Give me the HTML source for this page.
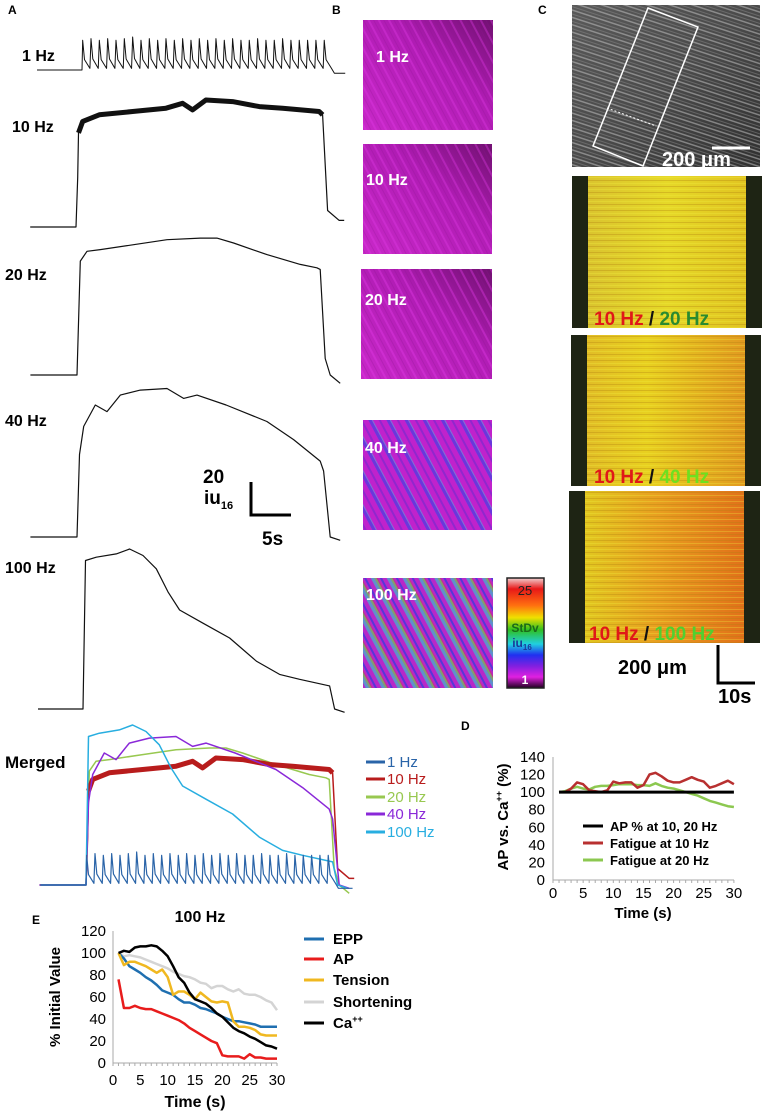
<!DOCTYPE html>
<html><head><meta charset="utf-8">
<style>
html,body{margin:0;padding:0;background:#fff;}
svg{display:block;font-family:"Liberation Sans",Arial,sans-serif;}
.b{font-weight:bold;}
</style></head>
<body>
<svg id="fig" width="766" height="1115" viewBox="0 0 766 1115" xmlns="http://www.w3.org/2000/svg">
<defs>
  <pattern id="stMag" patternUnits="userSpaceOnUse" width="9" height="9" patternTransform="rotate(-28)">
    <rect width="9" height="9" fill="none"/>
    <rect x="0" y="0" width="2" height="9" fill="#e23ae8" opacity="0.7"/>
    <rect x="5" y="0" width="1" height="9" fill="#8c1690" opacity="0.5"/>
  </pattern>
  <pattern id="st40" patternUnits="userSpaceOnUse" width="16" height="16" patternTransform="rotate(-28)">
    <rect x="0" y="0" width="3" height="16" fill="#2e48e8" opacity="0.85"/>
    <rect x="3" y="0" width="1" height="16" fill="#38c8e0" opacity="0.7"/>
    <rect x="9" y="0" width="2" height="16" fill="#3a30d0" opacity="0.5"/>
  </pattern>
  <pattern id="st100" patternUnits="userSpaceOnUse" width="14" height="14" patternTransform="rotate(-28)">
    <rect x="0" y="0" width="3" height="14" fill="#30c8d0"/>
    <rect x="3" y="0" width="2" height="14" fill="#60e040"/>
    <rect x="5" y="0" width="1" height="14" fill="#e04020" opacity="0.6"/>
    <rect x="8" y="0" width="2" height="14" fill="#2040e0"/>
  </pattern>
  <pattern id="stPhoto" patternUnits="userSpaceOnUse" width="10" height="7" patternTransform="rotate(18)">
    <rect x="0" y="0" width="10" height="1.5" fill="#bdbdbd" opacity="0.55"/>
    <rect x="0" y="4" width="10" height="1" fill="#8a8a8a" opacity="0.5"/>
  </pattern>
  <pattern id="stH" patternUnits="userSpaceOnUse" width="10" height="6">
    <rect x="0" y="0" width="10" height="1" fill="#b08010" opacity="0.35"/>
    <rect x="0" y="3" width="10" height="1" fill="#f0f040" opacity="0.3"/>
  </pattern>
  <linearGradient id="gMag" x1="0" y1="1" x2="1" y2="0">
    <stop offset="0" stop-color="#c828c8"/><stop offset="0.6" stop-color="#b01cb4"/><stop offset="1" stop-color="#701070"/>
  </linearGradient>
  <linearGradient id="gBar" x1="0" y1="0" x2="0" y2="1">
    <stop offset="0" stop-color="#f0d0d0"/><stop offset="0.1" stop-color="#e81818"/>
    <stop offset="0.25" stop-color="#ff7010"/><stop offset="0.36" stop-color="#f0e000"/>
    <stop offset="0.47" stop-color="#30c020"/><stop offset="0.6" stop-color="#20d0e0"/>
    <stop offset="0.7" stop-color="#2030f0"/><stop offset="0.8" stop-color="#8020e0"/>
    <stop offset="0.9" stop-color="#e020e0"/><stop offset="1" stop-color="#200020"/>
  </linearGradient>
  <linearGradient id="gPhoto" x1="0" y1="0" x2="1" y2="1">
    <stop offset="0" stop-color="#5a5a5a"/><stop offset="0.5" stop-color="#4a4a4a"/><stop offset="1" stop-color="#303030"/>
  </linearGradient>
  <linearGradient id="gH1" x1="0" y1="0" x2="1" y2="0">
    <stop offset="0" stop-color="#d8c030"/><stop offset="0.5" stop-color="#e6d828"/><stop offset="1" stop-color="#e0c020"/>
  </linearGradient>
  <linearGradient id="gH2" x1="0" y1="0" x2="1" y2="0">
    <stop offset="0" stop-color="#e0b828"/><stop offset="0.4" stop-color="#e8d020"/><stop offset="1" stop-color="#e09020"/>
  </linearGradient>
  <linearGradient id="gH3" x1="0" y1="0" x2="1" y2="0">
    <stop offset="0" stop-color="#e0d020"/><stop offset="0.45" stop-color="#e8a020"/><stop offset="1" stop-color="#e06818"/>
  </linearGradient>
</defs>

<!-- panel labels -->
<text x="8" y="14" font-size="12" class="b">A</text>
<text x="332" y="14" font-size="12" class="b">B</text>
<text x="538" y="14" font-size="12" class="b">C</text>
<text x="461" y="730" font-size="12" class="b">D</text>
<text x="32" y="924" font-size="12" class="b">E</text>

<!-- A labels -->
<text x="22" y="61" font-size="16" class="b">1 Hz</text>
<text x="12" y="132" font-size="16" class="b">10 Hz</text>
<text x="5" y="280" font-size="16" class="b">20 Hz</text>
<text x="5" y="426" font-size="16" class="b">40 Hz</text>
<text x="5" y="573" font-size="16" class="b">100 Hz</text>
<g>
  <text x="203" y="483" font-size="19" class="b">20</text>
  <text x="204" y="504" font-size="19" class="b">iu<tspan font-size="11" dy="5">16</tspan></text>
  <path d="M251,482 V515 H291" stroke="#000" stroke-width="3" fill="none"/>
  <text x="262" y="545" font-size="19" class="b">5s</text>
</g>
<text x="5" y="768" font-size="17" class="b">Merged</text>
<g id="traces"></g>

<!-- merged legend -->
<g font-size="15">
  <line x1="366" y1="762" x2="385" y2="762" stroke="#2a64a8" stroke-width="3"/><text x="387" y="767" fill="#2a64a8">1 Hz</text>
  <line x1="366" y1="779" x2="385" y2="779" stroke="#b81c1c" stroke-width="3"/><text x="387" y="784" fill="#b81c1c">10 Hz</text>
  <line x1="366" y1="797" x2="385" y2="797" stroke="#98c850" stroke-width="3"/><text x="387" y="802" fill="#98c850">20 Hz</text>
  <line x1="366" y1="814" x2="385" y2="814" stroke="#8a28d8" stroke-width="3"/><text x="387" y="819" fill="#8a28d8">40 Hz</text>
  <line x1="366" y1="832" x2="385" y2="832" stroke="#28aee0" stroke-width="3"/><text x="387" y="837" fill="#28aee0">100 Hz</text>
</g>

<!-- Panel B images -->
<g>
  <g><rect x="363" y="20" width="130" height="110" fill="url(#gMag)"/><rect x="363" y="20" width="130" height="110" fill="url(#stMag)" opacity="0.5"/></g>
  <g><rect x="363" y="144" width="129" height="110" fill="url(#gMag)"/><rect x="363" y="144" width="129" height="110" fill="url(#stMag)" opacity="0.5"/></g>
  <g><rect x="361" y="269" width="131" height="110" fill="url(#gMag)"/><rect x="361" y="269" width="131" height="110" fill="url(#stMag)" opacity="0.55"/></g>
  <g><rect x="363" y="420" width="129" height="110" fill="#c022cc"/><rect x="363" y="420" width="129" height="110" fill="url(#st40)" opacity="0.7"/></g>
  <g><rect x="363" y="578" width="130" height="110" fill="#b828c8"/><rect x="363" y="578" width="130" height="110" fill="url(#st100)" opacity="0.65"/></g>
  <g fill="#fff" font-size="16" class="b">
    <text x="376" y="62">1 Hz</text><text x="366" y="185">10 Hz</text><text x="365" y="305">20 Hz</text>
    <text x="365" y="453">40 Hz</text><text x="366" y="600">100 Hz</text>
  </g>
  <g>
    <rect x="507" y="578" width="37" height="110" fill="url(#gBar)" stroke="#222" stroke-width="1.5"/>
    <text x="525" y="595" font-size="13" text-anchor="middle" fill="#222">25</text>
    <text x="525" y="632" font-size="12" text-anchor="middle" fill="#1a6a1a" class="b">StDv</text>
    <text x="522" y="647" font-size="12" text-anchor="middle" fill="#1a3a9a" class="b">iu<tspan font-size="8" dy="3">16</tspan></text>
    <text x="525" y="684" font-size="12" text-anchor="middle" fill="#fff" class="b">1</text>
  </g>
</g>

<!-- Panel C -->
<g>
  <g>
    <rect x="572" y="5" width="188" height="162" fill="url(#gPhoto)"/>
    <rect x="572" y="5" width="188" height="162" fill="url(#stPhoto)"/>
    <polygon points="648,8 698,27 643,166 593,146" fill="none" stroke="#fff" stroke-width="1.5"/>
    <line x1="607" y1="108" x2="656" y2="126" stroke="#fff" stroke-width="1" stroke-dasharray="2,2"/>
    <line x1="712" y1="148" x2="750" y2="148" stroke="#fff" stroke-width="3"/>
    <text x="662" y="166" font-size="20" class="b" fill="#fff">200 μm</text>
  </g>
  <g>
    <rect x="572" y="176" width="190" height="152" fill="url(#gH1)"/><rect x="572" y="176" width="190" height="152" fill="url(#stH)"/>
    <rect x="572" y="176" width="16" height="152" fill="#1e2414"/><rect x="746" y="176" width="16" height="152" fill="#1e2414"/>
    <text x="594" y="325" font-size="19" class="b"><tspan fill="#e01818">10 Hz </tspan><tspan fill="#111">/ </tspan><tspan fill="#2a8a30">20 Hz</tspan></text>
  </g>
  <g>
    <rect x="571" y="335" width="190" height="151" fill="url(#gH2)"/><rect x="571" y="335" width="190" height="151" fill="url(#stH)"/>
    <rect x="571" y="335" width="16" height="151" fill="#1e2414"/><rect x="745" y="335" width="16" height="151" fill="#1e2414"/>
    <text x="594" y="483" font-size="19" class="b"><tspan fill="#e01818">10 Hz </tspan><tspan fill="#111">/ </tspan><tspan fill="#6ee020">40 Hz</tspan></text>
  </g>
  <g>
    <rect x="569" y="491" width="191" height="152" fill="url(#gH3)"/><rect x="569" y="491" width="191" height="152" fill="url(#stH)"/>
    <rect x="569" y="491" width="16" height="152" fill="#1e2414"/><rect x="744" y="491" width="16" height="152" fill="#1e2414"/>
    <text x="589" y="640" font-size="19" class="b"><tspan fill="#e01818">10 Hz </tspan><tspan fill="#111">/ </tspan><tspan fill="#50d030">100 Hz</tspan></text>
  </g>
  <g>
    <text x="618" y="674" font-size="20" class="b">200 μm</text>
    <path d="M718,645 V683 H755" stroke="#000" stroke-width="3" fill="none"/>
    <text x="718" y="703" font-size="20" class="b">10s</text>
  </g>
</g>

<!-- Panel D static -->
<g id="chartD">
  <line x1="553" y1="757" x2="553" y2="880" stroke="#aaa"/>
  <line x1="553" y1="880" x2="734" y2="880" stroke="#aaa"/>
  <text transform="translate(508,817) rotate(-90)" font-size="15" class="b" text-anchor="middle">AP vs. Ca<tspan font-size="9" dy="-6">++</tspan><tspan dy="6"> (%)</tspan></text>
  <text x="643" y="918" font-size="15" class="b" text-anchor="middle">Time (s)</text>
  <g font-size="13" class="b">
    <line x1="583" y1="826" x2="603" y2="826" stroke="#000" stroke-width="3"/><text x="610" y="831">AP % at 10, 20 Hz</text>
    <line x1="583" y1="843" x2="603" y2="843" stroke="#b83030" stroke-width="3"/><text x="610" y="848">Fatigue at 10 Hz</text>
    <line x1="583" y1="860" x2="603" y2="860" stroke="#8cc850" stroke-width="3"/><text x="610" y="865">Fatigue at 20 Hz</text>
  </g>
</g>

<!-- Panel E static -->
<g id="chartE">
  <text x="200" y="922" font-size="16" class="b" text-anchor="middle">100 Hz</text>
  <line x1="113" y1="931" x2="113" y2="1063" stroke="#aaa"/>
  <line x1="113" y1="1063" x2="277" y2="1063" stroke="#aaa"/>
  <text transform="translate(60,997) rotate(-90)" font-size="15" class="b" text-anchor="middle">% Initial Value</text>
  <text x="195" y="1107" font-size="16" class="b" text-anchor="middle">Time (s)</text>
  <g font-size="15" class="b">
    <line x1="304" y1="939" x2="324" y2="939" stroke="#1f6fb0" stroke-width="3"/><text x="333" y="944">EPP</text>
    <line x1="304" y1="959" x2="324" y2="959" stroke="#e81c1c" stroke-width="3"/><text x="333" y="964">AP</text>
    <line x1="304" y1="980" x2="324" y2="980" stroke="#f0b820" stroke-width="3"/><text x="333" y="985">Tension</text>
    <line x1="304" y1="1002" x2="324" y2="1002" stroke="#d4d4d4" stroke-width="3"/><text x="333" y="1007">Shortening</text>
    <line x1="304" y1="1023" x2="324" y2="1023" stroke="#000" stroke-width="3"/><text x="333" y="1028">Ca<tspan font-size="9" dy="-6">++</tspan></text>
  </g>
</g>
</svg>

<script>
// ---------- Panel A / Merged trace data (time s from stimulus onset, value iu16) ----------
const spikeTimes1 = [0,1,2,3,4,5,6,7,8,9,10,11,12,13,14,15,16,17,18,19,20,21,22,23,24,25,26,27,28,29];
const spikeAmp1 = [18,19,18,19,18,19,20,18,19,18,19,18,19,18,19,18,19,18,19,18,18,19,18,18,19,18,18,18,18,18];
const t10 = [-5.5,0,0.2,0.3,0.8,2.8,6.8,10.8,12.8,14,15.6,18.8,22,24.8,29.2,29.6,30.2,31.6,32.2];
const v10 = [0,0,30,57,64,68,70,72,75,71,77,76,73,72,70,68,10,4,4];
const t20 = [-5.6,0,0.4,1.2,2.8,6.8,10.8,14.8,16.8,18.8,22.8,26.8,28.8,29.2,29.8,30.4,31.6];
const v20 = [0,0,69,75,76,79,82,83,83,80,73,67,65,64,10,0,-5];
const t40 = [-5.6,0,0.3,0.8,2.2,3.6,5.2,7.6,10.8,12.8,14.4,17.9,22.8,26,29.2,29.6,30.4,31.6];
const v40 = [0,0,50,67,80,76,86,89,90,84,86,80,70,59,46,40,0,-2];
const t100 = [-5.4,0,0.3,1.6,4,5.6,7.2,8.8,10.2,11.6,14.4,17.6,20.8,23.6,26,29.6,30.2,31.4];
const v100 = [0,0,90,92,94,97,93,85,71,60,52,43,29,21,18,14,0,-2];

// ---------- Panel D data ----------
const dTime = [1,2,3,4,5,6,7,8,9,10,11,12,13,14,15,16,17,18,19,20,21,22,23,24,25,26,27,28,29,30];
const dAP = [100,100,100,100,100,100,100,100,100,100,100,100,100,100,100,100,100,100,100,100,100,100,100,100,100,100,100,100,100,100];
const dFat10 = [100,100,104,111,109,102,101,100,102,112,110,111,111,105,108,120,122,118,113,111,111,114,117,114,112,105,107,110,113,109];
const dFat20 = [100,101,104,106,104,103,106,107,107,108,109,109,109,108,108,107,110,107,105,104,102,100,98,96,93,90,88,86,84,83];
const dYTicks = [0,20,40,60,80,100,120,140];
const dXTicks = [0,5,10,15,20,25,30];

// ---------- Panel E data ----------
const eTime = [1,2,3,4,5,6,7,8,9,10,11,12,13,14,15,16,17,18,19,20,21,22,23,24,25,26,27,28,29,30];
const eEPP = [100,95,88,85,82,78,75,71,66,64,62,58,55,55,53,50,49,47,45,42,40,38,38,37,36,35,33,33,33,33];
const eAP = [76,50,50,52,50,49,49,47,45,43,41,39,36,32,29,26,23,20,18,7,6,6,6,4,8,5,5,4,4,4];
const eTension = [100,89,92,92,90,88,85,82,85,78,62,65,65,62,58,64,60,56,55,56,55,38,33,33,32,30,26,25,25,25];
const eShort = [100,97,98,97,96,94,92,90,88,86,83,81,79,78,76,73,72,68,70,70,67,65,67,63,62,62,60,57,55,48];
const eCa = [100,102,101,105,106,106,107,106,102,97,88,78,73,64,58,56,54,50,45,42,37,32,29,27,24,22,19,16,15,13];
const eYTicks = [0,20,40,60,80,100,120];
const eXTicks = [0,5,10,15,20,25,30];

const NS = 'http://www.w3.org/2000/svg';
const tr = document.getElementById('traces');
const PXS = 8.33, PXIU = 1.65;
function ax(x0){ return t => x0 + t * PXS; }
function ay(base){ return v => base - v * PXIU; }

function pathD(ts, vs, X, Y){
  let d = '';
  for (let i = 0; i < ts.length; i++) d += (i ? 'L' : 'M') + X(ts[i]).toFixed(1) + ',' + Y(vs[i]).toFixed(1);
  return d;
}
function addPath(parent, d, color, w, name){
  const el = document.createElementNS(NS, 'path');
  el.setAttribute('d', d);
  el.setAttribute('fill', 'none');
  el.setAttribute('stroke', color);
  el.setAttribute('stroke-width', w);
  el.setAttribute('stroke-linejoin', 'round');
  
  
  parent.appendChild(el);
  return el;
}
function spikeD(X, Y, tStart, tEnd){
  let d = 'M' + X(tStart) + ',' + Y(0) + 'L' + X(0) + ',' + Y(0);
  for (let i = 0; i < spikeTimes1.length; i++){
    const s = spikeTimes1[i], a = spikeAmp1[i];
    d += 'L' + X(s + 0.08) + ',' + Y(a) + 'L' + X(s + 0.3) + ',' + Y(a * 0.35) + 'L' + X(s + 0.95) + ',' + Y(1);
  }
  const last = spikeTimes1[spikeTimes1.length - 1];
  d += 'L' + X(last + 1.3) + ',' + Y(-2) + 'L' + X(tEnd) + ',' + Y(-2);
  return d;
}
function plateau(ts, vs, lo, hi){
  const a = [], b = [];
  for (let i = 0; i < ts.length; i++) if (ts[i] >= lo && ts[i] <= hi){ a.push(ts[i]); b.push(vs[i]); }
  return [a, b];
}

// Panel A traces
addPath(tr, spikeD(ax(82), ay(70), -5.4, 31.6), '#111', 1, 'trace-1hz');
addPath(tr, pathD(t10, v10, ax(76), ay(227)), '#111', 1.2, 'trace-10hz');
const p10 = plateau(t10, v10, 0.3, 29.6);
addPath(tr, pathD(p10[0], p10[1], ax(76), ay(227)), '#111', 5, 'trace-10hz-noise-band');
addPath(tr, pathD(t20, v20, ax(77), ay(375)), '#111', 1.2, 'trace-20hz');
addPath(tr, pathD(t40, v40, ax(77), ay(537)), '#111', 1.2, 'trace-40hz');
addPath(tr, pathD(t100, v100, ax(83), ay(709)), '#111', 1.2, 'trace-100hz');

// Merged
const mX = ax(86), mY = ay(885);
addPath(tr, pathD(t20, v20, mX, mY), '#98c850', 1.5, 'merged-20hz');
addPath(tr, pathD(t10, v10, mX, mY), '#b81c1c', 1.5, 'merged-10hz');
addPath(tr, pathD(p10[0], p10[1], mX, mY), '#b81c1c', 5, 'merged-10hz-noise-band');
addPath(tr, pathD(t40, v40, mX, mY), '#8a28d8', 1.5, 'merged-40hz');
addPath(tr, pathD(t100, v100, mX, mY), '#28aee0', 1.5, 'merged-100hz');
addPath(tr, spikeD(mX, mY, -5.5, 32), '#2a64a8', 1.2, 'merged-1hz');

function addText(parent, x, y, s, anchor, size){
  const el = document.createElementNS(NS, 'text');
  el.setAttribute('x', x); el.setAttribute('y', y);
  el.setAttribute('text-anchor', anchor);
  el.setAttribute('font-size', size);
  el.textContent = s;
  
  
  parent.appendChild(el);
}
function addTick(parent, x1, y1, x2, y2){
  const el = document.createElementNS(NS, 'line');
  el.setAttribute('x1', x1); el.setAttribute('y1', y1); el.setAttribute('x2', x2); el.setAttribute('y2', y2);
  el.setAttribute('stroke', '#aaa');
  
  
  parent.appendChild(el);
}

// Panel D
const gD = document.getElementById('chartD');
const xD = v => 553 + v * 6.03, yD = v => 880 - v * 0.879;
dYTicks.forEach(v => addText(gD, 545, yD(v) + 5, String(v), 'end', 15));
dXTicks.forEach(v => addText(gD, xD(v), 898, String(v), 'middle', 15));
for (let i = 0; i <= 30; i++) addTick(gD, xD(i), 880, xD(i), 883);
addPath(gD, pathD(dTime, dFat20, xD, yD), '#8cc850', 2.5, 'd-line-fatigue-20hz');
addPath(gD, pathD(dTime, dFat10, xD, yD), '#b83030', 2.5, 'd-line-fatigue-10hz');
addPath(gD, pathD(dTime, dAP, xD, yD), '#000', 3, 'd-line-ap-percent');

// Panel E
const gE = document.getElementById('chartE');
const xE = v => 113 + v * 5.467, yE = v => 1063 - v * 1.1;
eYTicks.forEach(v => addText(gE, 106, yE(v) + 5, String(v), 'end', 15));
eXTicks.forEach(v => addText(gE, xE(v), 1085, String(v), 'middle', 15));
for (let i = 0; i <= 30; i++) addTick(gE, xE(i), 1063, xE(i), 1066);
addPath(gE, pathD(eTime, eShort, xE, yE), '#d4d4d4', 2.5, 'e-line-shortening');
addPath(gE, pathD(eTime, eEPP, xE, yE), '#1f6fb0', 2.5, 'e-line-epp');
addPath(gE, pathD(eTime, eTension, xE, yE), '#f0b820', 2.5, 'e-line-tension');
addPath(gE, pathD(eTime, eAP, xE, yE), '#e81c1c', 2.5, 'e-line-ap');
addPath(gE, pathD(eTime, eCa, xE, yE), '#000', 2.5, 'e-line-ca');
</script>
</body></html>
